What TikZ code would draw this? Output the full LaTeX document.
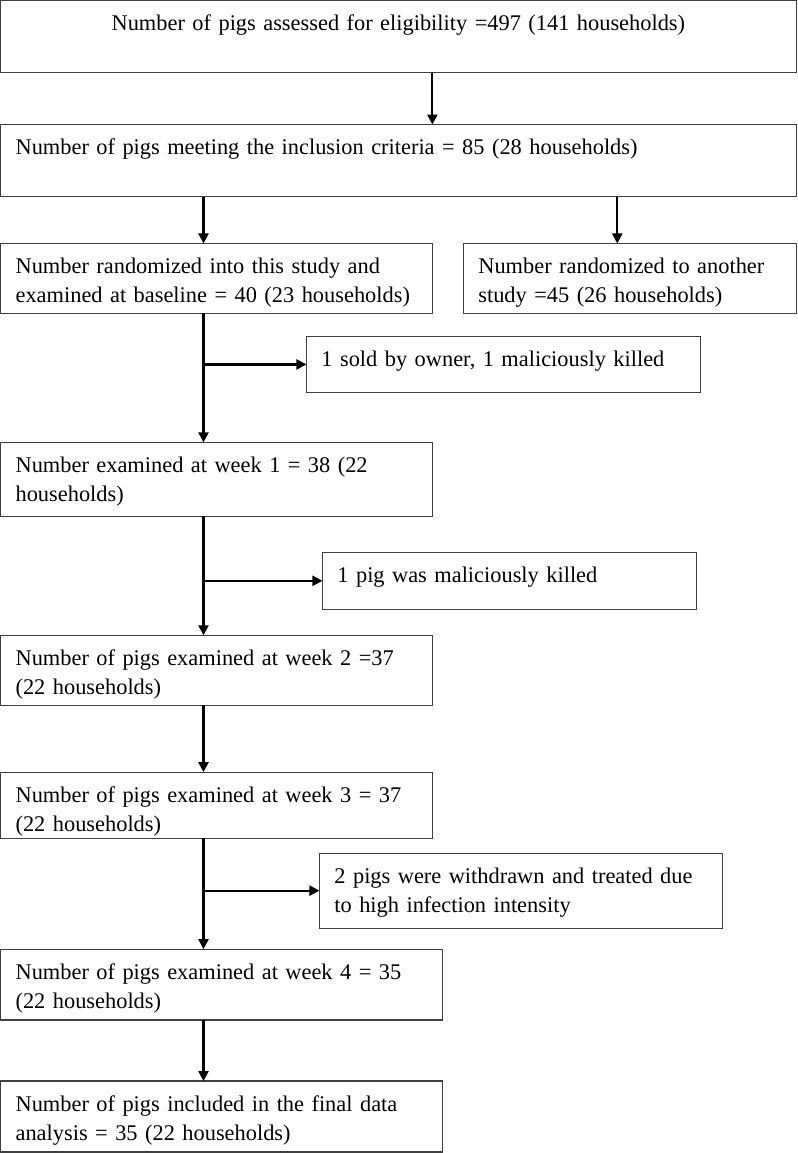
\documentclass[tikz,border=0pt]{standalone}
\usepackage{fontspec}
\setmainfont{Liberation Serif}
\usetikzlibrary{arrows.meta, positioning}
\hyphenpenalty=10000

\begin{document}
\begin{tikzpicture}[
    flowbox/.style={draw=black!75, line width=0.6pt, anchor=north west, align=left,
      inner xsep=7.5pt, inner ysep=0pt, outer sep=0pt, text height=15pt,
      font=\fontsize{11.2}{14.5}\selectfont},
    flowarr/.style={-{Triangle[length=5pt, width=5pt]}, line width=1.1pt}]
  \useasboundingbox (-0.3pt,0.3pt) rectangle (398.5pt,-576.5pt);
  % main column
  \node[flowbox, align=center, text width=383pt, text depth=21pt] (assessed) at (0,0)
    {Number of pigs assessed for eligibility =497 (141 households)};
  \node[flowbox, text width=383pt, text depth=21pt] (included) at (0,-62pt)
    {Number of pigs meeting the inclusion criteria = 85 (28 households)};
  \node[flowbox, text width=201pt, text depth=20pt] (randomized) at (0,-121.5pt)
    {Number randomized into this study and\\examined at baseline = 40 (23 households)};
  \node[flowbox, text width=151.5pt, text depth=20pt] (another) at (231.5pt,-121.5pt)
    {Number randomized to another\\study =45 (26 households)};
  \node[flowbox, text width=201pt, text depth=22pt] (week1) at (0,-221pt)
    {Number examined at week 1 = 38 (22\\households)};
  \node[flowbox, text width=201pt, text depth=20pt] (week2) at (0,-317.5pt)
    {Number of pigs examined at week 2 =37\\(22 households)};
  \node[flowbox, text width=201pt, text depth=18pt] (week3) at (0,-386pt)
    {Number of pigs examined at week 3 = 37\\(22 households)};
  \node[flowbox, text width=206pt, text depth=20.5pt] (week4) at (0,-474.5pt)
    {Number of pigs examined at week 4 = 35\\(22 households)};
  \node[flowbox, text width=206pt, text depth=20.5pt] (final) at (0,-540.5pt)
    {Number of pigs included in the final data\\analysis = 35 (22 households)};
  % losses
  \node[flowbox, text width=182pt, text depth=13pt] (sold) at (153pt,-168pt)
    {1 sold by owner, 1 maliciously killed};
  \node[flowbox, text width=172pt, text depth=13.5pt] (killed) at (161pt,-276pt)
    {1 pig was maliciously killed};
  \node[flowbox, text width=186.5pt, text depth=22.5pt] (withdrawn) at (159.5pt,-426.5pt)
    {2 pigs were withdrawn and treated due\\to high infection intensity};

  \coordinate (s0) at ([xshift=216pt]assessed.south west);
  \draw[flowarr] (s0) -- (s0 |- included.north);
  \coordinate (sL) at ([xshift=101.5pt]included.south west);
  \coordinate (sR) at ([xshift=308.5pt]included.south west);
  \draw[flowarr] (sL) -- (sL |- randomized.north);
  \draw[flowarr] (sR) -- (sR |- another.north);

  \coordinate (t1) at ([xshift=101.5pt]randomized.south west);
  \draw[flowarr] (t1) -- (t1 |- week1.north);
  \draw[flowarr] (t1 |- sold.west) -- (sold.west);
  \coordinate (t2) at ([xshift=101.5pt]week1.south west);
  \draw[flowarr] (t2) -- (t2 |- week2.north);
  \draw[flowarr] (t2 |- killed.west) -- (killed.west);
  \coordinate (t3) at ([xshift=101.5pt]week2.south west);
  \draw[flowarr] (t3) -- (t3 |- week3.north);
  \coordinate (t4) at ([xshift=101.5pt]week3.south west);
  \draw[flowarr] (t4) -- (t4 |- week4.north);
  \draw[flowarr] (t4 |- withdrawn.west) -- (withdrawn.west);
  \coordinate (t5) at ([xshift=101.5pt]week4.south west);
  \draw[flowarr] (t5) -- (t5 |- final.north);
\end{tikzpicture}
\end{document}
